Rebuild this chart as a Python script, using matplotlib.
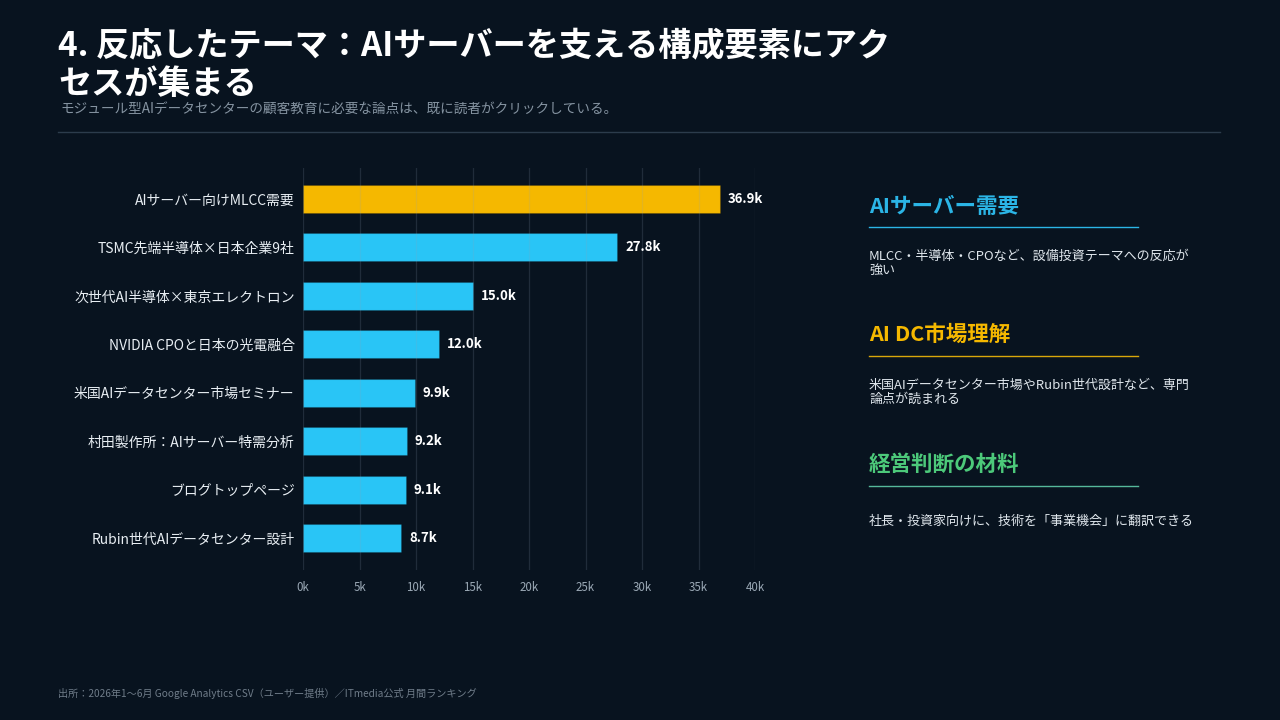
import matplotlib
matplotlib.use("Agg")
import matplotlib.pyplot as plt
from matplotlib.lines import Line2D

plt.rcParams['font.family'] = ['Noto Sans CJK JP', 'DejaVu Sans']

categories = [
    "AIサーバー向けMLCC需要",
    "TSMC先端半導体×日本企業9社",
    "次世代AI半導体×東京エレクトロン",
    "NVIDIA CPOと日本の光電融合",
    "米国AIデータセンター市場セミナー",
    "村田製作所：AIサーバー特需分析",
    "ブログトップページ",
    "Rubin世代AIデータセンター設計",
]
values = [36.9, 27.8, 15.0, 12.0, 9.9, 9.2, 9.1, 8.7]  # thousands
value_labels = ["36.9k", "27.8k", "15.0k", "12.0k", "9.9k", "9.2k", "9.1k", "8.7k"]
ticks = [0, 5, 10, 15, 20, 25, 30, 35, 40]
tick_labels = ["0k", "5k", "10k", "15k", "20k", "25k", "30k", "35k", "40k"]

title = "4. 反応したテーマ：AIサーバーを支える構成要素にアク\nセスが集まる"
subtitle = "モジュール型AIデータセンターの顧客教育に必要な論点は、既に読者がクリックしている。"
footer = "出所：2026年1〜6月 Google Analytics CSV（ユーザー提供）／ITmedia公式 月間ランキング"

panel_heads = ["AIサーバー需要", "AI DC市場理解", "経営判断の材料"]
panel_bodies = [
    "MLCC・半導体・CPOなど、設備投資テーマへの反応が\n強い",
    "米国AIデータセンター市場やRubin世代設計など、専門\n論点が読まれる",
    "社長・投資家向けに、技術を「事業機会」に翻訳できる",
]

BG = "#08131f"
GOLD = "#f5b800"
BLUE = "#29c5f6"
GREEN = "#4cc97a"

fig = plt.figure(figsize=(12.8, 7.2), dpi=100, facecolor=BG)

W, H = 1280, 720
def fx(px): return px / W
def fy(py): return 1 - py / H

# Title
fig.text(fx(58), fy(30), title, color="white", fontsize=23.9, fontweight="bold",
         va="top", ha="left", linespacing=1.18)
fig.text(fx(60), fy(109), subtitle, color="#8593a1", fontsize=9.8, va="center", ha="left")
fig.add_artist(Line2D([fx(58), fx(1220)], [fy(132), fy(132)], color="#2c3c4c", lw=1))

# Bar chart
ax = fig.add_axes([fx(303), fy(570), fx(755) - fx(303), fy(168) - fy(570)])
ax.set_facecolor(BG)
colors = [GOLD] + [BLUE] * (len(values) - 1)
ypos = list(range(len(categories)))
ax.barh(ypos, values, height=0.58, color=colors, edgecolor=[(0, 0, 0, 0.15)] * len(values),
        linewidth=0.8, zorder=2)
for y, v, lab in zip(ypos, values, value_labels):
    ax.text(v + 0.7, y, lab, color="white", fontsize=9.5, fontweight="bold",
            va="center", ha="left", zorder=4)
ax.set_xlim(0, 40)
ax.set_ylim(7.66, -0.64)
ax.set_xticks(ticks)
ax.set_xticklabels(tick_labels, color="#9aa8b5", fontsize=8.3)
ax.set_yticks(ypos)
ax.set_yticklabels(categories, color="#e8eef3", fontsize=10)
ax.tick_params(axis="y", length=0, pad=6)
ax.tick_params(axis="x", length=0, pad=8)
for sp in ax.spines.values():
    sp.set_visible(False)
for t in ticks:
    ax.axvline(t, color="#8fa3b8", alpha=0.18, lw=0.9, zorder=3)

# Right panel
heads_y = [206, 334, 464]
lines_y = [227, 356, 486]
bodies_y = [257, 386, 522]
head_colors = ["#2bb5e6", GOLD, GREEN]
line_colors = ["#2bb5e6", "#d9a70a", "#55b89a"]
for hy, ly, by, hc, lc, h, b in zip(heads_y, lines_y, bodies_y, head_colors, line_colors,
                                     panel_heads, panel_bodies):
    fig.text(fx(869), fy(hy), h, color=hc, fontsize=15.5, fontweight="bold", va="center", ha="left")
    fig.add_artist(Line2D([fx(869), fx(1138)], [fy(ly), fy(ly)], color=lc, lw=1))
    fig.text(fx(869), fy(by - 7), b, color="#dfe6ec", fontsize=9.4, va="top", ha="left",
             linespacing=1.08)

fig.text(fx(58), fy(693), footer, color="#6f7c89", fontsize=7.3, va="center", ha="left")

fig.savefig("out.png", dpi=100, facecolor=BG)
